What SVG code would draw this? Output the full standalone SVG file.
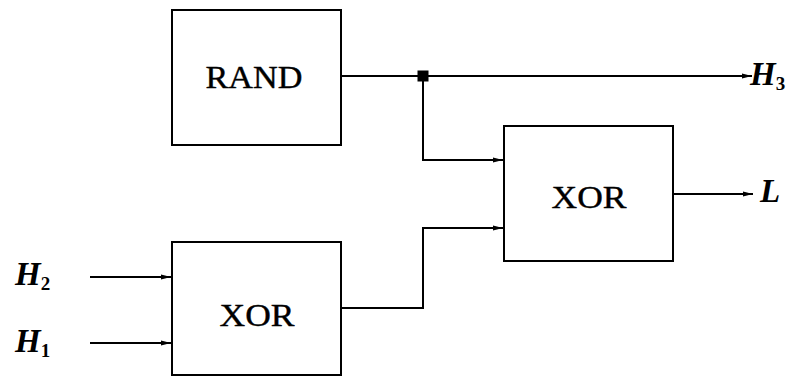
<svg xmlns="http://www.w3.org/2000/svg" width="795" height="376" viewBox="0 0 795 376">
<style>
.box{fill:#fff;stroke:#000;stroke-width:2}
.wire{fill:none;stroke:#000;stroke-width:2}
.lbl{font-family:"Liberation Serif","DejaVu Serif",serif;font-size:32px;fill:#000;stroke:#000;stroke-width:0.4;text-anchor:middle}
.var{font-family:"Liberation Serif","DejaVu Serif",serif;font-size:33px;font-style:italic;font-weight:bold;fill:#000}
.sub{font-family:"Liberation Serif","DejaVu Serif",serif;font-size:19px;fill:#000;font-style:normal;font-weight:bold}
</style>
<defs>
<marker id="arr" markerWidth="10" markerHeight="6" refX="10" refY="3" orient="auto" markerUnits="userSpaceOnUse">
<path d="M0,0.5 L10,3 L0,5.5 Z" fill="#000"/>
</marker>
</defs>
<g id="rand">
<rect class="box" x="172" y="10" width="169" height="135"/>
<text class="lbl" x="254" y="88" textLength="97" lengthAdjust="spacingAndGlyphs">RAND</text>
</g>
<g id="xor1">
<rect class="box" x="172" y="242" width="169" height="133"/>
<text class="lbl" x="257" y="326" textLength="75" lengthAdjust="spacingAndGlyphs">XOR</text>
</g>
<g id="xor2">
<rect class="box" x="504" y="126" width="169" height="135"/>
<text class="lbl" x="589" y="208" textLength="75" lengthAdjust="spacingAndGlyphs">XOR</text>
</g>
<g id="labels">
<text class="var" x="15" y="285">H<tspan class="sub" dy="5">2</tspan></text>
<text class="var" x="15" y="352">H<tspan class="sub" dy="5">1</tspan></text>
<text class="var" x="750" y="85">H<tspan class="sub" dy="5">3</tspan></text>
<text class="var" x="760" y="202">L</text>
</g>
<g id="connectors">
<path class="wire" d="M341,76 H752" marker-end="url(#arr)"/>
<rect x="417.5" y="70.5" width="11" height="11" fill="#000"/>
<path class="wire" d="M423,76 V160 H503" marker-end="url(#arr)"/>
<path class="wire" d="M341,308 H423 V228 H503" marker-end="url(#arr)"/>
<path class="wire" d="M673,194 H753" marker-end="url(#arr)"/>
<path class="wire" d="M90,277 H171" marker-end="url(#arr)"/>
<path class="wire" d="M90,343 H171" marker-end="url(#arr)"/>
</g>
</svg>
